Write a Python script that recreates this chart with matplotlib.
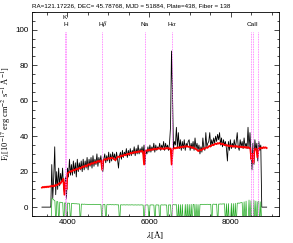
import matplotlib
matplotlib.use("Agg")
import matplotlib.pyplot as plt
from matplotlib.ticker import MultipleLocator
import numpy as np

plt.rcParams["mathtext.fontset"] = "stix"

TITLE = "RA=121.17226, DEC= 45.78768, MJD = 51884, Plate=438, Fiber = 138"

# observed flux, 3380-8880 A on an even grid (zeros outside the good range)
flux = [0, 0, 0, 0, 0, 0, 0, 0, 0, 0,
        24, 5, 17, 34, 7, 20, 10, 22, 12, 19,
        14, 22, 11, 8, 17, 5, 22, 17, 27, 18,
        24, 18, 26, 19, 25, 17, 27, 20, 25, 21,
        26, 20, 27, 21, 26, 22, 28, 21, 27, 23,
        28, 22, 29, 23, 27, 24, 30, 23, 28, 25,
        29, 24, 20, 27, 30, 25, 29, 26, 31, 25,
        30, 26, 31, 27, 30, 26, 31, 27, 22, 29,
        31, 27, 32, 28, 31, 29, 33, 28, 32, 29,
        33, 29, 32, 30, 34, 29, 33, 30, 35, 30,
        33, 31, 34, 30, 35, 24, 32, 30, 34, 31,
        35, 31, 34, 32, 36, 31, 35, 32, 34, 33,
        36, 32, 35, 33, 37, 32, 36, 33, 35, 32,
        36, 45, 88, 65, 33, 37, 35, 45, 34, 42,
        33, 38, 32, 37, 33, 38, 32, 36, 34, 37,
        38, 32, 36, 33, 37, 32, 39, 33, 36, 32,
        35, 30, 34, 31, 39, 33, 32, 42, 34, 36,
        37, 42, 34, 38, 35, 39, 36, 40, 37, 41,
        38, 42, 35, 39, 34, 38, 35, 37, 33, 26,
        37, 32, 38, 33, 36, 34, 38, 33, 37, 42,
        34, 32, 38, 34, 37, 33, 39, 34, 36, 33,
        45, 33, 42, 30, 21, 36, 24, 38, 32, 36,
        26, 37, 32, 35,
        0, 0, 0, 0, 0, 0]

# best-fit model, 3380-8880 A
model = [11, 11.4, 11.1, 11.5, 11.2, 11.6, 11.3, 11.7, 11.5, 11.9,
         12.0, 11.6, 12.3, 12.0, 12.6, 12.4, 13.0, 13.5, 13.2, 14.2,
         15, 16, 7, 14, 10, 19, 19.5, 19.8, 20.3, 20.0,
         20.6, 21.0, 20.7, 21.3, 21.6, 21.2, 21.9, 22.2, 21.8, 22.5,
         22.9, 22.6, 23.2, 23.5, 23.1, 23.9, 24.2, 23.8, 24.5, 24.8,
         24.5, 25.1, 25.4, 25.0, 25.7, 26.0, 25.6, 26.3, 25.9, 21,
         26.2, 26.8, 27.1, 26.7, 27.3, 27.6, 27.2, 27.8, 27.5, 27.9,
         27.4, 26.8, 26.5, 27.6, 28.2, 28.5, 28.1, 28.8, 29.1, 28.7,
         29.3, 29.6, 29.2, 29.8, 30.1, 29.7, 30.3, 30.6, 30.2, 30.8,
         31.0, 30.6, 31.2, 30.9, 31.4, 31.1, 31.6, 31.3, 31.7, 31.2,
         24, 31.6, 32.0, 31.7, 32.3, 32.0, 32.5, 32.2, 32.7, 32.4,
         32.9, 32.6, 33.0, 32.7, 33.2, 32.9, 33.3, 32.8, 33.1, 32.7,
         33.2, 32.9, 33.4, 33.0, 33.3, 32.8, 33.1, 24, 32.6, 33.0,
         33.4, 33.1, 33.6, 33.3, 33.8, 33.5, 34.0, 33.7, 34.2, 33.9,
         34.3, 34.0, 34.4, 34.1, 33.9, 34.2, 33.7, 33.4, 33.8, 33.2,
         33.0, 32.6, 32.2, 31.6, 31.9, 32.4, 32.0, 32.7, 33.1, 32.8,
         33.3, 33.7, 33.4, 34.0, 34.5, 34.2, 34.8, 35.2, 34.9, 35.5,
         35.8, 35.5, 36.1, 35.8, 36.2, 35.7, 35.4, 35.8, 35.2, 34.9,
         35.2, 34.6, 34.9, 34.3, 34.7, 34.2, 34.6, 34.0, 34.4, 34.1,
         34.5, 33.9, 34.3, 33.8, 34.2, 33.7, 34.1, 33.6, 34.0, 33.5,
         33.9, 33.4, 33.8, 33.3, 33.2, 27, 30, 25, 32.5, 33.0,
         32.6, 28, 32.8, 33.4, 33.0, 33.6, 33.2, 33.8, 33.4, 33.7,
         33.3]

# error spectrum, 3600-8760 A (masked pixels pushed off the bottom)
error = [-10, 5.0, 4.6, 4.0, 3.6, -10, 3.2, 3.0, -10, 2.8,
         2.7, 2.6, 2.5, -10, 2.4, 2.4, -10, 2.3, 2.2, 2.2,
         -10, 2.1, 2.0, 2.0, 1.9, 1.9, 1.9, 1.8, 1.8, 1.8,
         -10, 1.7, 1.7, 1.6, 1.7, 1.6, 1.6, 1.6, 1.5, 1.6,
         1.5, 1.5, 1.5, 1.6, 1.5, 1.5, 1.4, 1.5, 1.5, 1.4,
         1.5, 1.4, -10, 1.4, 1.4, 1.5, -10, 1.4, 1.4, 1.3,
         1.4, 1.4, 1.3, 1.4, 1.3, 1.3, 1.4, 1.3, 1.3, 1.3,
         -10, 1.3, 1.3, 1.2, 1.3, 1.3, 1.2, 1.3, 1.3, 1.2,
         1.3, 1.2, 1.3, 1.3, 1.2, 1.2, 1.3, 1.2, 1.2, 1.3,
         1.2, 1.2, 1.3, 1.2, 1.2, -10, 1.2, 1.2, 1.3, 1.2,
         -10, 1.2, 1.2, 1.3, 1.2, 1.2, -10, 1.2, 1.3, 1.2,
         1.2, -10, 1.2, 1.3, 1.2, 1.2, 1.3, 1.2, 1.2, -10,
         1.3, 1.2, 1.3, -10, 1.3, 1.4, 1.3, 1.3, 1.4, -10,
         1.5, -10, 1.4, -10, 1.5, -10, -10, 1.5, -10, 1.6,
         -10, 1.5, -10, 1.6, -10, 1.5, 1.5, -10, 1.6, -10,
         1.5, -10, 1.5, 1.5, 1.6, 1.5, 1.5, 1.6, 1.5, 1.6,
         1.6, 1.5, 1.6, 1.6, -10, 1.6, 1.7, 1.6, 1.6, 1.7,
         -10, 1.7, 1.7, 1.8, 1.7, 1.8, 1.8, 1.9, -10, 1.9,
         -10, 2.0, -10, -10, 2.1, -10, 2.0, -10, 2.2, -10,
         2.2, 2.3, 2.2, 2.4, 2.5, 2.6, -10, 3.0, -10, 3.4,
         -10, -10, 4.0, -10, 3.6, -10, -10, 3.8, -10, 3.4,
         -10, 3.0, 3.2, -10, 3.0, -10]

line_names = ["K", "H", r"H$\beta$", "Na", r"H$\alpha$", "CaII"]
line_waves = [3934, 3969, 4861, 5893, 6563, 8498]
caii_extra = [8542, 8662]

wave_flux = np.linspace(3380, 8880, len(flux))
wave_model = np.linspace(3380, 8880, len(model))
wave_err = np.linspace(3600, 8760, len(error))

fig = plt.figure(figsize=(2.93, 2.43), dpi=100)
ax = fig.add_axes([32/293, 27/243, 247/293, 204/243])

ax.plot(wave_flux, flux, color="black", lw=0.6, zorder=2)
ax.plot(wave_model, model, color="red", lw=1.3, zorder=3)
ax.plot(wave_err, error, color="#22aa22", lw=0.5, zorder=2)

allw = line_waves + caii_extra
ax.vlines(allw, -5, 99, colors="#ff66ff", linestyles=(0, (1, 1)), lw=0.6, zorder=4)

lab_font = dict(family="Liberation Sans", fontsize=4.6, ha="center", va="center")
for name, w in zip(line_names, line_waves):
    y = 106.8 if name == "K" else 103
    xw = 8520 if name == "CaII" else w
    ax.text(xw, y, name, **lab_font)

ax.set_xlim(3136, 9182)
ax.set_ylim(-5, 110)
ax.xaxis.set_major_locator(MultipleLocator(2000))
ax.xaxis.set_minor_locator(MultipleLocator(500))
ax.yaxis.set_major_locator(MultipleLocator(20))
ax.yaxis.set_minor_locator(MultipleLocator(5))
ax.tick_params(which="both", direction="in", top=True, right=True, width=0.5)
ax.tick_params(which="major", length=3.5, labelsize=5.8, pad=2.5)
ax.tick_params(which="minor", length=1.8)
for lb in ax.get_xticklabels() + ax.get_yticklabels():
    lb.set_family("Liberation Sans")
for sp in ax.spines.values():
    sp.set_linewidth(0.6)

ax.set_xlabel(r"$\lambda$[Å]", family="Liberation Serif", fontsize=6.5, labelpad=2)
ax.set_ylabel(r"F$_\lambda$[10$^{-17}$ erg cm$^{-2}$ s$^{-1}$ Å$^{-1}$]",
              family="Liberation Serif", fontsize=6.0)
ax.yaxis.set_label_coords(-0.071, 0.5)

fig.text(32/293, 1 - 5.5/243, TITLE, family="Liberation Sans", fontsize=4.5,
         ha="left", va="center")

fig.savefig("out.png", dpi=100)
